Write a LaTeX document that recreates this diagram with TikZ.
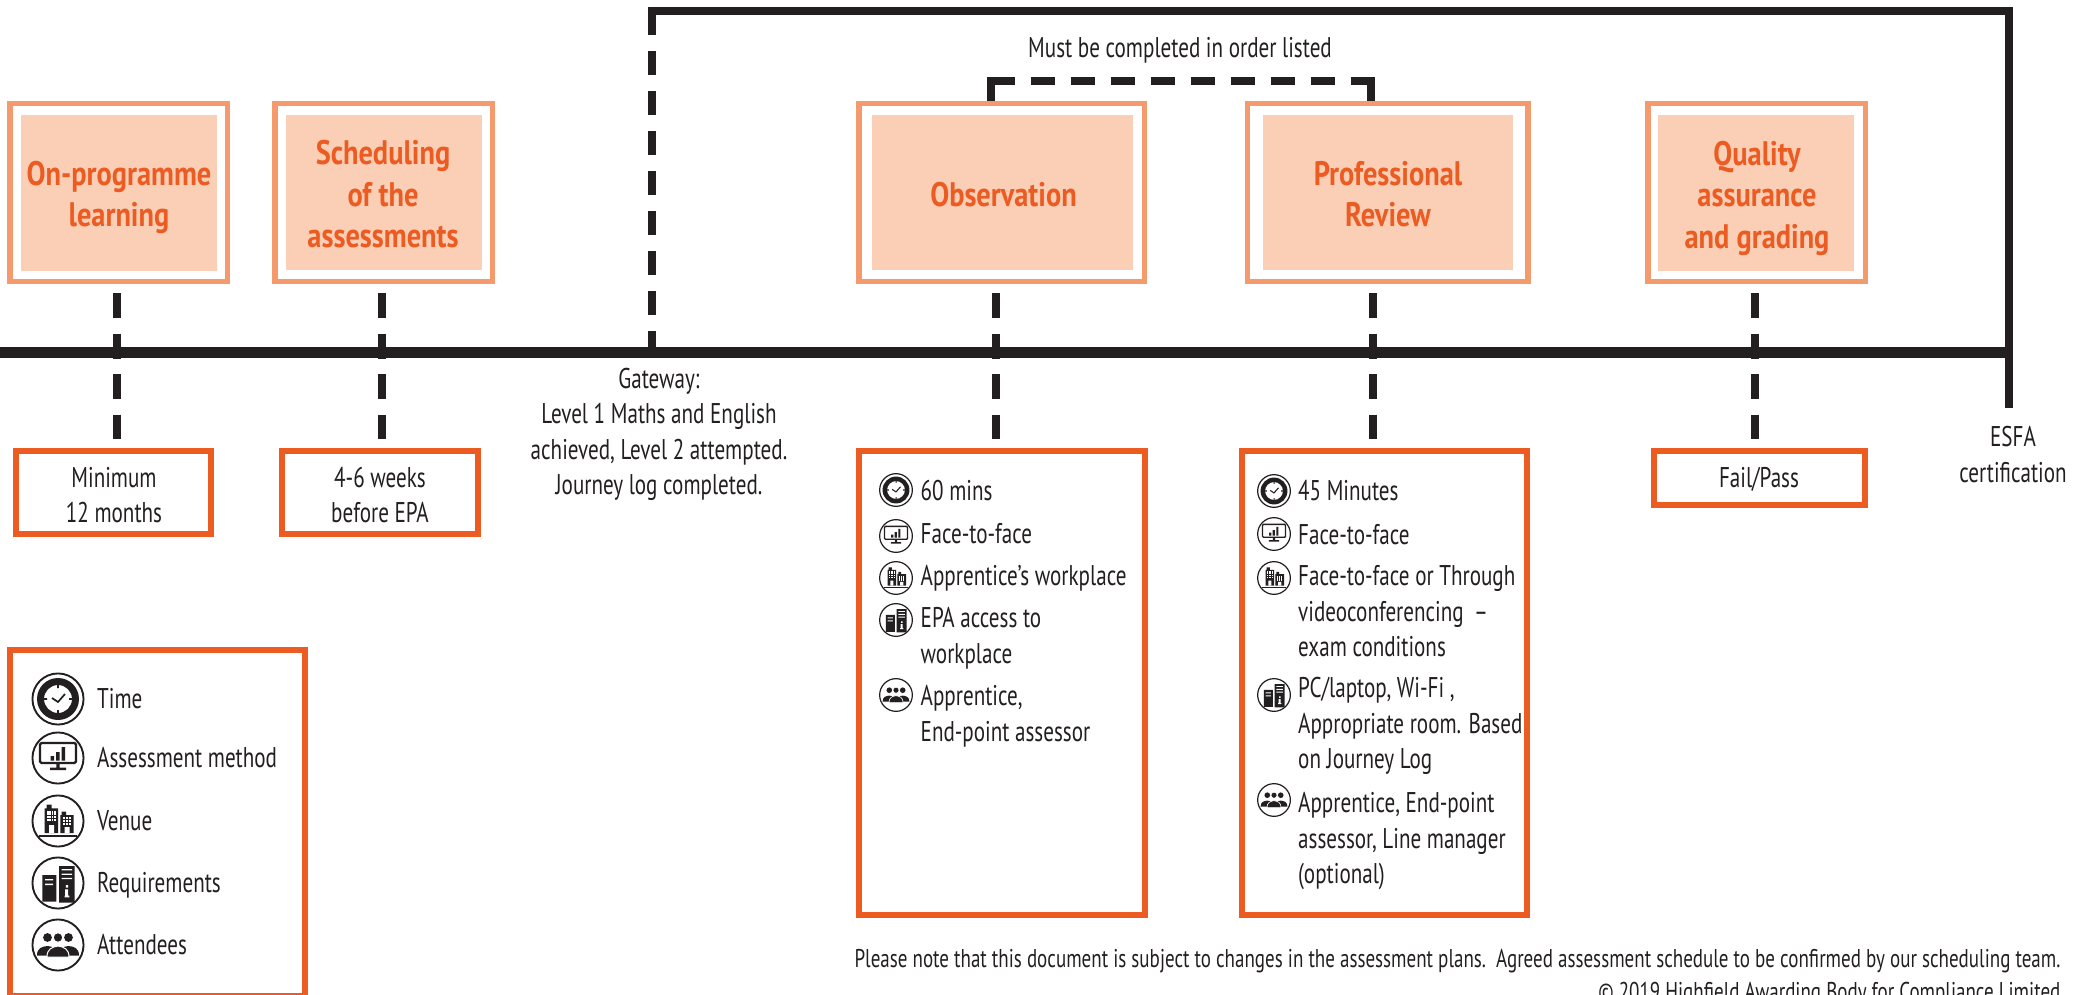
\documentclass[tikz,border=0pt]{standalone}
\usepackage{fontspec}
\setmainfont{PT Sans}[FakeStretch=0.74]
\newfontfamily\headfam{PT Sans}[FakeStretch=0.835]
\definecolor{ink}{HTML}{231F20}
\definecolor{hot}{HTML}{EB5B22}
\definecolor{soft}{HTML}{F49A6C}
\definecolor{pale}{HTML}{FACFB6}
\newcommand{\bodyfs}{\fontsize{28.5}{35.5}\selectfont}
\newcommand{\headfs}{\headfam\fontsize{34}{41.5}\selectfont\bfseries}
\newcommand{\footfs}{\fontsize{25.7}{34}\selectfont}
\newcommand{\icRing}{\fill[ink,even odd rule] (0,0) circle[radius=26.5] (0,0) circle[radius=24.6];}
\newcommand{\icClock}[3]{\begin{scope}[shift={(#1,#2)},scale=#3]\icRing
 \fill[ink,even odd rule] (0,0) circle[radius=21] (0,0) circle[radius=14];
 \fill[ink] (-0.8,-14) rectangle (0.8,-11) (-0.8,14) rectangle (0.8,11) (-14,-0.8) rectangle (-11,0.8) (14,-0.8) rectangle (11,0.8);
 \draw[ink,line width=1.7pt*#3] (-6,-1) -- (0,3) -- (7,-5);
 \end{scope}}
\newcommand{\icScreen}[3]{\begin{scope}[shift={(#1,#2)},scale=#3]\icRing
 \draw[ink,line width=2.2pt*#3,rounded corners=1.5pt*#3] (-18,-15) rectangle (18,5);
 \fill[ink] (-7.5,-2) rectangle (-4,2.5) (-2,-6) rectangle (1.5,2.5) (3.5,-11) rectangle (7,2.5);
 \fill[ink] (-1.7,5) rectangle (1.7,10) (-8,9.5) rectangle (8,12);
 \end{scope}}
\newcommand{\icCity}[3]{\begin{scope}[shift={(#1,#2)},scale=#3]\icRing
 \fill[ink] (-13.3,12) rectangle (0,-12.7) (-11.5,-12.7) rectangle (-6.5,-16.5);
 \fill[ink] (2.3,12) rectangle (15.7,-6) (3.5,-6) rectangle (8,-9.5);
 \fill[ink] (-19,13.5) rectangle (19,15.5);
 \foreach \i in {0,1,2,3}{\foreach \j in {0,1,2,3}{
   \fill[white] (-11+\i*2.4,-10.5+\j*2.9) rectangle ++(1.6,2);}}
 \foreach \i in {0,1,2}{\foreach \j in {0,1,2}{
   \fill[white] (4.6+\i*3,-3.8+\j*2.9) rectangle ++(2.2,2);}}
 \fill[white] (-9,12) rectangle (-4,4) (6.5,12) rectangle (11.5,6);
 \end{scope}}
\newcommand{\icServer}[3]{\begin{scope}[shift={(#1,#2)},scale=#3]\icRing
 \fill[ink] (-15.7,-8) rectangle (-1.7,18.7) (1,-17) rectangle (16.7,19.5);
 \fill[white] (-13,-4) rectangle (-5,-2.6) (-13,0.6) rectangle (-5,2);
 \fill[white] (3.5,-14) rectangle (14,-12.6) (3.5,-9.5) rectangle (14,-8.1) (3.5,-5.2) rectangle (14,-3.8);
 \fill[white] (7.8,2) rectangle (10.2,4.6) (7.2,6.4) rectangle (10.2,14) (6.6,12.6) rectangle (11.4,14.4);
 \end{scope}}
\newcommand{\icGroup}[3]{\begin{scope}[shift={(#1,#2)},scale=#3]\icRing
 \fill[ink] (-10.5,-7.5) circle[radius=4.4] (10.5,-7.5) circle[radius=4.4];
 \fill[ink] (-21,10.5) .. controls (-21,3) and (-16,1.5) .. (-10.5,1) .. controls (-5,1.5) and (-2,3) .. (-2,10.5) -- cycle;
 \fill[ink] (2,10.5) .. controls (2,3) and (5,1.5) .. (10.5,1) .. controls (16,1.5) and (21,3) .. (21,10.5) -- cycle;
 \fill[ink,draw=white,line width=1pt*#3] (0,-7.5) circle[radius=4.8];
 \fill[ink,draw=white,line width=1pt*#3] (-11,12) .. controls (-11,4) and (-6,2) .. (0,1) .. controls (6,2) and (11,4) .. (11,12) -- cycle;
 \end{scope}}
\tikzset{x=1pt,y=-1pt,
 softbox/.style={draw=soft,fill=white,line width=5.5pt,inner sep=0pt,minimum height=177.5pt},
 palebox/.style={fill=pale,inner sep=0pt,minimum height=155.5pt},
 hotbox/.style={draw=hot,fill=white,line width=5.8pt,inner sep=0pt},
 headtext/.style={text=hot,font=\headfs,align=center,inner sep=0pt,yshift=-4pt,
   execute at begin node=\strut,execute at end node=\strut},
 bodytext/.style={text=ink,font=\bodyfs,align=center,inner sep=0pt,yshift=-2.5pt,
   execute at begin node=\strut,execute at end node=\strut},
 itemtext/.style={bodytext,align=left,anchor=west},
 rail/.style={draw=ink,line width=8pt},
 mainrail/.style={draw=ink,line width=11pt},
 dashlink/.style={draw=ink,line width=8pt,dash pattern=on 25pt off 15.5pt,shorten <=9pt,shorten >=9pt},
 gatelink/.style={draw=ink,line width=8pt,dash pattern=on 24pt off 16pt},
}
\begin{document}
\begin{tikzpicture}
\useasboundingbox (0,0) rectangle (2087,995);
% anchors of the timeline
\coordinate (lineL) at (0,352);
\coordinate (lineR) at (2013,352);
\coordinate (topL) at (648,11);
\coordinate (topR) at (2009,11);
\coordinate (endR) at (2009,408);
\coordinate (gateT) at (652,11);
\coordinate (gateB) at (652,352);
% top boxes
\node[softbox,minimum width=217.5pt] (oa) at (118.5,192.5) {};
\node[palebox,minimum width=196pt] (oaI) at (119,193) {};
\node[softbox,minimum width=217.5pt] (sa) at (383.5,192.5) {};
\node[palebox,minimum width=196pt] (saI) at (384,192.5) {};
\node[softbox,minimum width=285.5pt] (ob) at (1001.5,192.5) {};
\node[palebox,minimum width=261pt] (obI) at (1002.5,192.5) {};
\node[softbox,minimum width=280.5pt] (pr) at (1387.5,192.5) {};
\node[palebox,minimum width=250pt] (prI) at (1388,192.5) {};
\node[softbox,minimum width=217.5pt] (qa) at (1756.5,192.5) {};
\node[palebox,minimum width=196pt] (qaI) at (1756,193) {};
\node[headtext] (oaT) at (119,196) {On-programme\\learning};
\node[headtext] (saT) at (383,196.5) {Scheduling\\of the\\assessments};
\node[headtext] (obT) at (1003.5,194.5) {Observation};
\node[headtext] (prT) at (1388,196) {Professional\\Review};
\node[headtext] (qaT) at (1757,197) {Quality\\assurance\\and grading};
% lower boxes
\node[hotbox,minimum width=195pt,minimum height=83pt] (ma) at (113.5,492.5) {};
\node[hotbox,minimum width=196pt,minimum height=83pt] (wk) at (380,492.5) {};
\node[hotbox,minimum width=286pt,minimum height=464pt] (ob2) at (1002,683) {};
\node[hotbox,minimum width=285pt,minimum height=464pt] (pr2) at (1384.5,683) {};
\node[hotbox,minimum width=211pt,minimum height=54pt] (fp) at (1759.5,478) {};
\node[hotbox,minimum width=295pt,minimum height=346pt] (lg) at (157.5,823) {};
\node[bodytext] (maT) at (114,497.5) {Minimum\\12 months};
\node[bodytext] (wkT) at (380,497.5) {4-6 weeks\\before EPA};
\node[bodytext] (fpT) at (1759,478) {Fail/Pass};
% rails
\draw[mainrail] (lineL) -- (lineR);
\draw[rail] (topL) -- (topR) -- (endR);
\draw[gatelink] (gateT) -- (gateB);
% dashed links box to box
\coordinate (x1) at (117,0);
\coordinate (x2) at (382,0);
\coordinate (x3) at (996,0);
\coordinate (x4) at (1373,0);
\coordinate (x5) at (1755,0);
\draw[dashlink] (x1 |- oa.south) -- (x1 |- ma.north);
\draw[dashlink] (x2 |- sa.south) -- (x2 |- wk.north);
\draw[dashlink] (x3 |- ob.south) -- (x3 |- ob2.north);
\draw[dashlink] (x4 |- pr.south) -- (x4 |- pr2.north);
\draw[dashlink] (x5 |- qa.south) -- (x5 |- fp.north);
% order bracket
\coordinate (bL) at (991,81);
\coordinate (bR) at (1371,81);
\draw[rail,line width=8.2pt] (bL |- ob.north) -- (991,77);
\draw[rail,line width=8.2pt] (bR |- pr.north) -- (1371,77);
\draw[draw=ink,line width=8pt,dash pattern=on 24pt off 16pt] (bL) -- (bR);
\node[bodytext] (must) at (1180,48) {Must be completed in order listed};
\node[bodytext] (gate) at (659,434) {Gateway:\\Level 1 Maths and English\\achieved, Level 2 attempted.\\Journey log completed.};
\node[bodytext] (esfa) at (2013,457) {ESFA\\certification};
% observation items
\icClock{896}{490}{0.64}\icScreen{896}{536}{0.64}\icCity{896}{578}{0.64}\icServer{896}{620}{0.64}\icGroup{896}{695}{0.64}
\node[itemtext] (o1) at (920.5,490.5) {60 mins};
\node[itemtext] (o2) at (920.5,534) {Face-to-face};
\node[itemtext] (o3) at (920.5,576) {Apprentice’s workplace};
\node[itemtext] (o4) at (920.5,638) {EPA access to\\workplace};
\node[itemtext] (o5) at (920.5,716) {Apprentice,\\End-point assessor};
% professional review items
\icClock{1274}{491}{0.64}\icScreen{1274}{534}{0.64}\icCity{1274}{578}{0.64}\icServer{1274}{695}{0.64}\icGroup{1274}{800}{0.64}
\node[itemtext] (p1) at (1298,491) {45 Minutes};
\node[itemtext] (p2) at (1298,535) {Face-to-face};
\node[itemtext] (p3) at (1298,614) {Face-to-face or Through\\videoconferencing \,–\\exam conditions};
\node[itemtext] (p4) at (1298,726) {PC/laptop, Wi-Fi ,\\Appropriate room. Based\\on Journey Log};
\node[itemtext] (p5) at (1298,841) {Apprentice, End-point\\assessor, Line manager\\(optional)};
% legend
\icClock{58}{699}{1}\icScreen{58}{758}{1}\icCity{58}{821}{1}\icServer{58}{883}{1}\icGroup{58}{945}{1}
\node[itemtext] (l1) at (97,699) {Time};
\node[itemtext] (l2) at (97,758) {Assessment method};
\node[itemtext] (l3) at (97,821) {Venue};
\node[itemtext] (l4) at (97,883) {Requirements};
\node[itemtext] (l5) at (97,945) {Attendees};
% footer
\node[text=ink,font=\footfs,align=right,anchor=base east,inner sep=0pt] (foot1) at (2060.6,967) {Please note that this document is subject to changes in the assessment plans.\ \ Agreed assessment schedule to be confirmed by our scheduling team.};
\node[text=ink,font=\footfs,anchor=base east,inner sep=0pt] (foot2) at (2060.6,1000) {© 2019 Highfield Awarding Body for Compliance Limited};
\end{tikzpicture}
\end{document}
